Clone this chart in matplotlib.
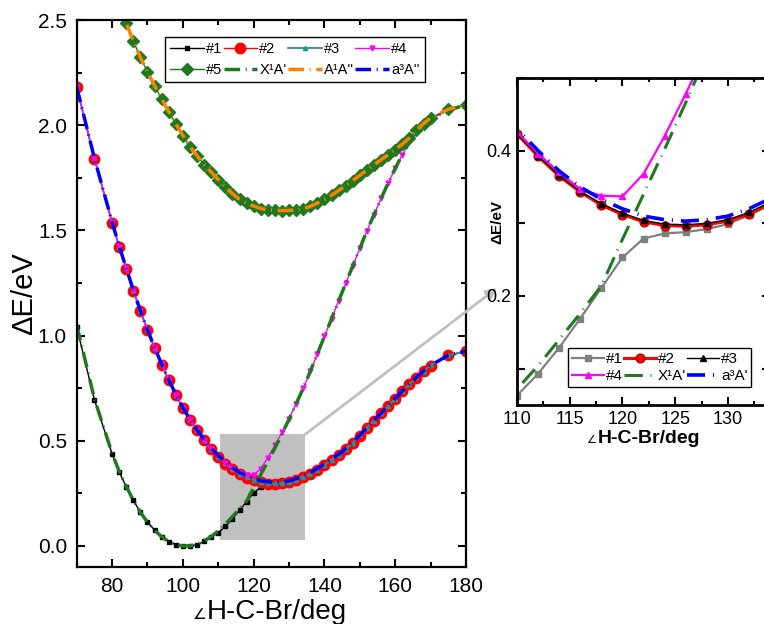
import matplotlib
matplotlib.use("Agg")
import matplotlib.pyplot as plt
from matplotlib.patches import Rectangle
from matplotlib.ticker import MultipleLocator
from matplotlib.transforms import IdentityTransform

plt.rcParams["font.family"] = ["Liberation Sans", "DejaVu Sans"]
plt.rcParams["axes.unicode_minus"] = False

# bending angle grid (deg) shared by the lower curves
angle = [70, 75, 80, 82, 84, 86, 88, 90, 92, 94,
         96, 98, 100, 102, 104, 106, 108, 110, 112, 114,
         116, 118, 120, 122, 124, 126, 128, 130, 132, 134,
         136, 138, 140, 142, 144, 146, 148, 150, 152, 154,
         156, 158, 160, 162, 164, 166, 168, 170, 175, 180]

state1 = [1.040, 0.695, 0.438, 0.352, 0.281, 0.217, 0.160, 0.113, 0.076, 0.045,
          0.021, 0.006, 0.000, 0.000, 0.006, 0.022, 0.041, 0.063, 0.093, 0.129,
          0.169, 0.211, 0.253, 0.279, 0.286, 0.288, 0.292, 0.299, 0.311, 0.325,
          0.340, 0.360, 0.384, 0.408, 0.432, 0.460, 0.490, 0.525, 0.561, 0.595,
          0.630, 0.665, 0.700, 0.735, 0.768, 0.800, 0.830, 0.856, 0.905, 0.925]

state2 = [2.180, 1.841, 1.537, 1.422, 1.318, 1.214, 1.116, 1.025, 0.941, 0.862,
          0.787, 0.719, 0.655, 0.600, 0.549, 0.503, 0.460, 0.423, 0.392, 0.365,
          0.343, 0.325, 0.312, 0.302, 0.297, 0.296, 0.298, 0.303, 0.313, 0.327,
          0.342, 0.362, 0.385, 0.409, 0.432, 0.460, 0.490, 0.525, 0.562, 0.595,
          0.630, 0.665, 0.700, 0.735, 0.768, 0.800, 0.830, 0.857, 0.906, 0.925]

state3 = [2.181, 1.842, 1.538, 1.423, 1.319, 1.215, 1.117, 1.026, 0.942, 0.863,
          0.788, 0.720, 0.656, 0.601, 0.550, 0.504, 0.461, 0.424, 0.393, 0.366,
          0.344, 0.327, 0.314, 0.304, 0.299, 0.298, 0.300, 0.305, 0.315, 0.329,
          0.343, 0.363, 0.386, 0.410, 0.433, 0.461, 0.491, 0.526, 0.563, 0.596,
          0.631, 0.666, 0.701, 0.736, 0.769, 0.801, 0.831, 0.858, 0.907, 0.926]

state4 = [2.180, 1.842, 1.538, 1.423, 1.319, 1.215, 1.117, 1.026, 0.942, 0.863,
          0.788, 0.720, 0.656, 0.601, 0.550, 0.505, 0.462, 0.426, 0.396, 0.370,
          0.347, 0.338, 0.337, 0.368, 0.420, 0.478, 0.540, 0.605, 0.676, 0.750,
          0.830, 0.913, 0.997, 1.080, 1.165, 1.248, 1.332, 1.415, 1.498, 1.575,
          1.652, 1.725, 1.795, 1.860, 1.920, 1.970, 2.005, 2.030, 2.070, 2.098]

x1a1 = [1.050, 0.700, 0.440, 0.355, 0.283, 0.218, 0.160, 0.113, 0.075, 0.044,
        0.021, 0.006, 0.000, 0.000, 0.007, 0.023, 0.045, 0.072, 0.104, 0.140,
        0.176, 0.214, 0.278, 0.340, 0.402, 0.466, 0.533, 0.603, 0.676, 0.750,
        0.830, 0.913, 0.997, 1.080, 1.165, 1.248, 1.332, 1.415, 1.498, 1.575,
        1.652, 1.725, 1.795, 1.860, 1.920, 1.970, 2.005, 2.030, 2.070, 2.098]

a3a2 = [2.182, 1.843, 1.540, 1.425, 1.320, 1.216, 1.118, 1.027, 0.943, 0.864,
        0.789, 0.721, 0.657, 0.602, 0.551, 0.506, 0.464, 0.430, 0.400, 0.372,
        0.350, 0.333, 0.320, 0.310, 0.305, 0.303, 0.305, 0.310, 0.320, 0.334,
        0.349, 0.368, 0.390, 0.413, 0.436, 0.463, 0.493, 0.527, 0.563, 0.597,
        0.632, 0.667, 0.702, 0.737, 0.770, 0.802, 0.832, 0.858, 0.907, 0.926]

# upper state
angle_up = [80, 82, 84, 86, 88, 90, 92, 94, 96, 98,
            100, 102, 104, 106, 108, 110, 112, 114, 116, 118,
            120, 122, 124, 126, 128, 130, 132, 134, 136, 138,
            140, 142, 144, 146, 148, 150, 152, 154, 156, 158,
            160, 162, 164, 166, 168, 170, 175, 180]

state5 = [2.660, 2.570, 2.484, 2.400, 2.322, 2.253, 2.188, 2.125, 2.065, 2.007,
          1.950, 1.898, 1.855, 1.813, 1.777, 1.742, 1.707, 1.674, 1.648, 1.630,
          1.616, 1.604, 1.598, 1.596, 1.594, 1.595, 1.597, 1.602, 1.614, 1.630,
          1.647, 1.667, 1.690, 1.713, 1.737, 1.762, 1.787, 1.812, 1.836, 1.860,
          1.884, 1.910, 1.940, 1.975, 2.008, 2.035, 2.076, 2.098]

a1a2 = [2.660, 2.570, 2.484, 2.400, 2.322, 2.253, 2.188, 2.125, 2.065, 2.007,
        1.950, 1.898, 1.855, 1.813, 1.777, 1.742, 1.707, 1.674, 1.648, 1.630,
        1.616, 1.604, 1.598, 1.596, 1.594, 1.595, 1.597, 1.602, 1.614, 1.630,
        1.647, 1.667, 1.690, 1.713, 1.737, 1.762, 1.787, 1.812, 1.836, 1.860,
        1.884, 1.910, 1.940, 1.975, 2.008, 2.035, 2.076, 2.098]

GREEN = "#1f7a1f"
TEAL = "#2a9090"
DASH_DOT = (4.5, 1.6, 0.3, 1.6)


def add_small_angle(fig, label, size, gap):
    # small angle sign drawn just left of an axis label, as in the original figure
    fig.canvas.draw()
    bb = label.get_window_extent()
    fig.text(bb.x0 - gap, bb.y0 + 0.3 * label.get_fontsize(), "\u2220",
             transform=IdentityTransform(), fontsize=size, family="DejaVu Sans",
             ha="right", va="baseline")


fig = plt.figure(figsize=(7.64, 6.24), dpi=100)
ax = fig.add_axes([0.1004, 0.0913, 0.5096, 0.8766])

h1, = ax.plot(angle, state1, color="black", lw=1.0, marker="s", ms=3.5, label="#1")
h2, = ax.plot(angle, state2, color="red", lw=1.0, marker="o", ms=7.5, label="#2")
h3, = ax.plot(angle, state3, color=TEAL, lw=1.3, marker="^", ms=3, label="#3")
h4, = ax.plot(angle, state4, color="magenta", lw=1.0, marker="v", ms=3.5, label="#4")
h5, = ax.plot(angle_up, state5, color=GREEN, lw=1.0, marker="D", ms=6, label="#5")
hx, = ax.plot(angle, x1a1, color=GREEN, lw=2.5, dashes=DASH_DOT, label="X\u00b9A'")
ha, = ax.plot(angle_up, a1a2, color="#ff8000", lw=2.5, dashes=DASH_DOT, label="A\u00b9A''")
hb, = ax.plot(angle, a3a2, color="blue", lw=2.5, dashes=DASH_DOT, label="a\u00b3A''")

ax.add_patch(Rectangle((110.5, 0.03), 24, 0.5, facecolor="#c0c0c0", edgecolor="none", zorder=0))

ax.set_xlim(70, 180)
ax.set_ylim(-0.1, 2.5)
ax.xaxis.set_major_locator(MultipleLocator(20))
ax.xaxis.set_minor_locator(MultipleLocator(10))
ax.yaxis.set_major_locator(MultipleLocator(0.5))
ax.yaxis.set_minor_locator(MultipleLocator(0.25))
ax.tick_params(which="both", direction="in", top=True, right=True, width=1.5, labelsize=15, pad=7)
ax.tick_params(which="major", length=6)
ax.tick_params(which="minor", length=3.5)
for sp in ax.spines.values():
    sp.set_linewidth(1.6)
main_xlabel = ax.set_xlabel("H-C-Br/deg", fontsize=20, labelpad=2)
main_xlabel.set_x(0.515)
ax.set_ylabel("\u0394E/eV", fontsize=21, labelpad=0)

leg = ax.legend([h1, h5, h2, hx, h3, ha, h4, hb],
                ["#1", "#5", "#2", "X\u00b9A'", "#3", "A\u00b9A''", "#4", "a\u00b3A''"],
                ncol=4, loc="upper left", bbox_to_anchor=(0.227, 0.969), borderaxespad=0,
                fontsize=10.5, handlelength=2.3, handletextpad=0.15, columnspacing=0.1,
                labelspacing=0.5, borderpad=0.35, fancybox=False, framealpha=1.0)
leg.get_frame().set_edgecolor("black")
leg.get_frame().set_linewidth(1.0)

ax.annotate("", xy=(0.6505, 0.5385), xycoords="figure fraction",
            xytext=(134.5, 0.53), textcoords="data",
            arrowprops=dict(arrowstyle="-|>", color="#c0c0c0", lw=2, mutation_scale=16,
                            shrinkA=0, shrinkB=0),
            annotation_clip=False)

# zoomed inset
ins = fig.add_axes([0.6767, 0.351, 0.3312, 0.524])
g1, = ins.plot(angle, state1, color="#808080", lw=1.6, marker="s", ms=5, label="#1")
g2, = ins.plot(angle, state2, color="red", lw=2.2, marker="o", ms=6.5,
               mec="#b00000", mew=0.8, label="#2")
g3, = ins.plot(angle, state3, color="black", lw=1.0, marker="^", ms=5, label="#3")
g4, = ins.plot(angle, state4, color="magenta", lw=1.6, marker="^", ms=4.5, label="#4")
gx, = ins.plot(angle, x1a1, color=GREEN, lw=2.2, dashes=(6, 2.5, 0.3, 2.5), label="X\u00b9A'")
gb, = ins.plot(angle, a3a2, color="blue", lw=2.6, dashes=(5, 2.2, 0.3, 2.2), label="a\u00b3A'")

ins.set_xlim(110, 134)
ins.set_ylim(0.05, 0.5)
ins.xaxis.set_major_locator(MultipleLocator(5))
ins.xaxis.set_minor_locator(MultipleLocator(2.5))
ins.yaxis.set_major_locator(MultipleLocator(0.2))
ins.yaxis.set_minor_locator(MultipleLocator(0.1))
ins.tick_params(which="both", direction="in", top=True, right=True, width=1.5, labelsize=13, pad=4)
ins.tick_params(which="major", length=6)
ins.tick_params(which="minor", length=3)
ins.tick_params(axis="y", which="minor", length=6)
for sp in ins.spines.values():
    sp.set_linewidth(2.0)
ins_xlabel = ins.set_xlabel("H-C-Br/deg", fontsize=14, fontweight="bold", labelpad=2)
ins_xlabel.set_x(0.52)
ins.set_ylabel("\u0394E/eV", fontsize=11, fontweight="bold")
ins.yaxis.set_label_coords(-0.048, 0.56)

leg2 = ins.legend([g1, g4, g2, gx, g3, gb],
                  ["#1", "#4", "#2", "X\u00b9A'", "#3", "a\u00b3A'"],
                  ncol=3, loc="upper left", bbox_to_anchor=(0.2016, 0.174), borderaxespad=0,
                  fontsize=11, handlelength=2.1, handletextpad=0.1, columnspacing=0.1,
                  labelspacing=0.2, borderpad=0.25, fancybox=False, framealpha=1.0)
leg2.get_frame().set_edgecolor("black")
leg2.get_frame().set_linewidth(1.0)

add_small_angle(fig, main_xlabel, 11, 1)
add_small_angle(fig, ins_xlabel, 8, 1)

fig.savefig("out.png", dpi=100)
